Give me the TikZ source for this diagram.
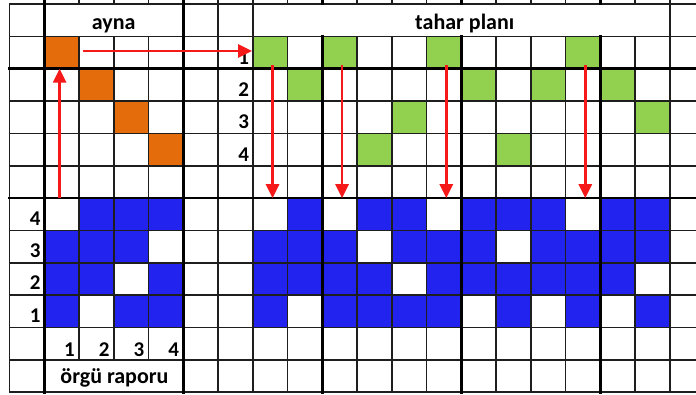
\documentclass[tikz,border=0pt]{standalone}
\usepackage{fontspec}
\setmainfont{Carlito}
\usetikzlibrary{arrows.meta}
\definecolor{gridc}{RGB}{30,30,30}
\definecolor{blu}{RGB}{35,35,240}
\definecolor{grn}{RGB}{146,208,80}
\definecolor{org}{RGB}{228,108,10}
\definecolor{arr}{RGB}{245,25,25}
\begin{document}
\begin{tikzpicture}[x=34.75pt,y=-32.35pt,
  thingrid/.style={draw=gridc,line width=1.5pt,line cap=rect},
  thickgrid/.style={draw=black,line width=2.6pt,line cap=rect},
  redarrow/.style={draw=arr,line width=2.8pt,-{Triangle[length=14pt,width=13pt]}},
  hdr/.style={font=\bfseries\fontsize{22}{22}\selectfont,anchor=base,inner sep=0pt},
  num/.style={font=\bfseries\fontsize{21}{21}\selectfont,anchor=base east,inner sep=0pt}]
\useasboundingbox (-0.2734,-0.1236) rectangle (19.7554,12.0556);
\fill[white] (-0.2734,-0.1236) rectangle (19.7554,12.0556);
% coloured cells
\foreach \c/\r in {1/1,2/2,3/3,4/4} \fill[org] (\c,\r) rectangle ++(1,1);
\foreach \c/\r in {7/1,9/1,12/1,16/1,8/2,13/2,15/2,17/2,11/3,18/3,10/4,14/4}
  \fill[grn] (\c,\r) rectangle ++(1,1);
\foreach \c/\r in {2/6,3/6,4/6, 1/7,2/7,3/7, 1/8,2/8,4/8, 1/9,3/9,4/9,
  8/6,10/6,11/6,13/6,14/6,15/6,17/6,18/6,
  7/7,8/7,9/7,11/7,12/7,13/7,15/7,16/7,17/7,18/7,
  7/8,8/8,9/8,10/8,12/8,13/8,14/8,15/8,16/8,17/8,
  7/9,9/9,10/9,11/9,12/9,14/9,16/9,18/9}
  \fill[blu] (\c,\r) rectangle ++(1,1);
% thin grid lines
\foreach \r in {0,1,3,4,5,7,8,9,10,11,12} \draw[thingrid] (0,\r) -- (19.8,\r);
\draw[thingrid] (0,0) -- (0,12);
\foreach \c in {2,3,4} {\draw[thingrid] (\c,-0.2) -- (\c,0); \draw[thingrid] (\c,1) -- (\c,11);}
\foreach \c in {6,7,19} \draw[thingrid] (\c,-0.2) -- (\c,12);
\foreach \c in {8,10,11,12,14,15,16,18} {\draw[thingrid] (\c,-0.2) -- (\c,0); \draw[thingrid] (\c,1) -- (\c,12);}
% thick grid lines
\foreach \r in {2,6} \draw[thickgrid] (0,\r) -- (19.8,\r);
\foreach \c in {1,5} \draw[thickgrid] (\c,-0.2) -- (\c,12);
\foreach \c in {9,13,17} {\draw[thickgrid] (\c,-0.2) -- (\c,0); \draw[thickgrid] (\c,1) -- (\c,12);}
% headers
\node[hdr] (ayna) at (3,0.782) {ayna};
\node[hdr] (tahar) at (13.1,0.79) {tahar planı};
\node[hdr] (orgu) at (3.02,11.716) {örgü raporu};
% numbers
\foreach \n [count=\k] in {1,2,3,4} {
  \node[num] (shaft\k) at (6.9,\k+0.861) {\n};
  \node[num] (col\k) at (\k+0.885,10.885) {\n};
}
\foreach \n [count=\k from 6] in {4,3,2,1}
  \node[num] (row\n) at (0.9,\k+0.84) {\n};
% arrows
\coordinate (upS) at (1.4425,6);
\coordinate (upE) at (1.4425,2);
\draw[redarrow] (upS) -- (upE);
\coordinate (rS) at (2.107,1.453);
\coordinate (rE) at (6.98,1.453);
\draw[redarrow] (rS) -- (rE);
\foreach \c [count=\k] in {7,9,12,16} {
  \coordinate (dS\k) at (\c+0.57,1.89);
  \coordinate (dE\k) at (\c+0.57,6);
  \draw[redarrow] (dS\k) -- (dE\k);
}
\end{tikzpicture}
\end{document}
